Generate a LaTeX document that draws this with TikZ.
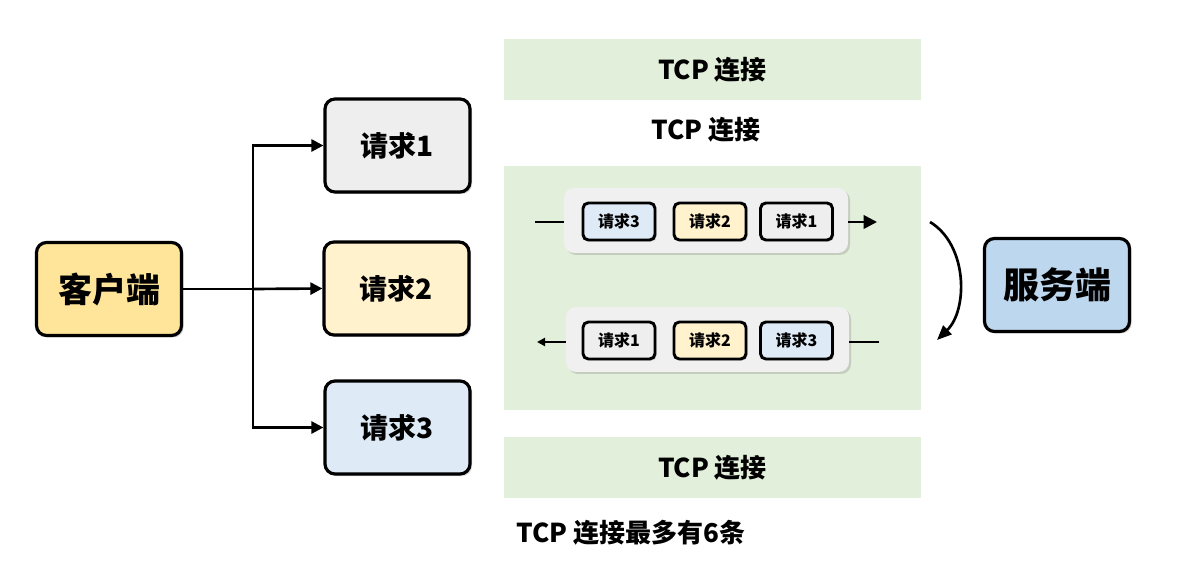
\documentclass[tikz,border=0pt]{standalone}
\usepackage{fontspec}
\setmainfont{Noto Sans CJK SC}
\usetikzlibrary{arrows.meta,shadows}
\definecolor{cgold}{HTML}{FFE599}
\definecolor{cgray}{HTML}{EEEEEE}
\definecolor{cyel}{HTML}{FFF2CC}
\definecolor{cblue}{HTML}{DEEBF7}
\definecolor{cserv}{HTML}{BDD7EE}
\definecolor{cgreen}{HTML}{E2EFDA}
\definecolor{cpanel}{HTML}{F0F0F0}
\tikzset{
  bigbox/.style={draw=black, line width=2.4pt, rounded corners=7.5pt, minimum width=108.75pt, minimum height=69.75pt, font=\bfseries\fontsize{21}{25}\selectfont, drop shadow={shadow xshift=1.5pt, shadow yshift=-1.5pt, opacity=0.35}},
  smallbox/.style={draw=black, line width=2.2pt, rounded corners=4pt, minimum width=54pt, minimum height=27.75pt, font=\bfseries\fontsize{12}{14}\selectfont, drop shadow={shadow xshift=1.2pt, shadow yshift=-1.2pt, opacity=0.35}},
  panel/.style={fill=cpanel, rounded corners=7.5pt, minimum height=48.75pt, drop shadow={shadow xshift=1.5pt, shadow yshift=-1.5pt, opacity=0.3}},
  greenbox/.style={fill=cgreen, minimum width=312.75pt, font=\bfseries\fontsize{19.5}{23}\selectfont},
  lbl/.style={font=\bfseries\fontsize{19.5}{23}\selectfont},
  conn/.style={line width=2pt, -{Triangle[length=9pt,width=9pt]}},
  plain/.style={line width=2pt},
}
\begin{document}
\begin{tikzpicture}[x=0.75pt,y=-0.75pt]
\useasboundingbox (0,0) rectangle (1203,573);
% green areas
\node[greenbox, minimum height=45.75pt] (g1) at (712.5,69.5) {TCP 连接};
\node[lbl] (t2) at (706,130) {TCP 连接};
\node[greenbox, minimum height=183pt] (g2) at (712.5,288) {};
\node[greenbox, minimum height=45.75pt] (g3) at (712.5,467.5) {TCP 连接};
\node[lbl, anchor=center] (t4) at (631,533) {TCP 连接最多有6条};
% left
\node[bigbox, fill=cgold, font=\bfseries\fontsize{25.5}{30}\selectfont] (client) at (109,289) {客户端};
\node[bigbox, fill=cgray] (r1) at (397.5,145.5) {请求1};
\node[bigbox, fill=cyel] (r2) at (396.5,288.5) {请求2};
\node[bigbox, fill=cblue] (r3) at (397.5,427.5) {请求3};
\coordinate (split) at (253,289);
\draw[plain] (client.east) -- (split);
\draw[conn] (split) |- (r1.west);
\draw[conn] (split) -- (r2.west);
\draw[conn] (split) |- (r3.west);
% server
\node[bigbox, fill=cserv, font=\bfseries\fontsize{27}{32}\selectfont] (server) at (1057,285) {服务端};
% panels
\node[panel, minimum width=213pt] (p1) at (706,220.5) {};
\node[panel, minimum width=212.25pt] (p2) at (707.5,339.5) {};
\node[smallbox, fill=cblue] (a3) at (619,221.5) {请求3};
\node[smallbox, fill=cyel] (a2) at (710,221.5) {请求2};
\node[smallbox, fill=cgray] (a1) at (796.5,221.5) {请求1};
\node[smallbox, fill=cgray] (b1) at (619,340.5) {请求1};
\node[smallbox, fill=cyel] (b2) at (710,340.5) {请求2};
\node[smallbox, fill=cblue] (b3) at (796.5,340.5) {请求3};
\coordinate (pin1) at (535,222);
\coordinate (pout1) at (877,222);
\coordinate (pin2) at (879,342);
\coordinate (pout2) at (537,342);
\draw[plain] (pin1) -- (p1.west |- pin1);
\draw[line width=2pt, -{Triangle[length=10pt,width=10pt]}] (p1.east |- pout1) -- (pout1);
\draw[plain] (pin2) -- (p2.east |- pin2);
\draw[line width=2pt, -{Triangle[length=6pt,width=6pt]}] (p2.west |- pout2) -- (pout2);
\coordinate (cs) at (930,222);
\coordinate (ce) at (937,340);
\draw[line width=2pt, -{Triangle[length=11pt,width=9pt]}] (cs) .. controls (968,245) and (968,310) .. (ce);
\end{tikzpicture}
\end{document}
